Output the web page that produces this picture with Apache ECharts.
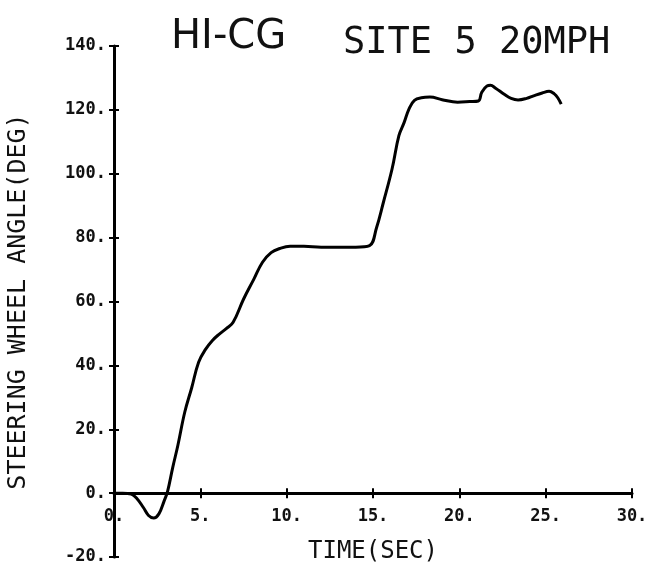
<!DOCTYPE html>
<html>
<head>
<meta charset="utf-8">
<script src="https://cdn.jsdelivr.net/npm/echarts@6/dist/echarts.min.js"></script>
<style>html,body{margin:0;padding:0;background:#fff;}#c{width:654px;height:576px;}</style>
</head>
<body>
<div id="c"></div>
<script>
const timeSec = [0, 0.5, 1.0, 1.3, 1.7, 2.0, 2.3, 2.6, 2.9, 3.1, 3.4, 3.7, 4.1, 4.5, 4.9, 5.3, 5.7, 6.1, 6.5, 6.9, 7.5, 8.1, 8.6, 9.1, 9.6, 10.2, 11, 12, 13, 14, 14.8, 15.2, 15.6, 16.1, 16.5, 16.8, 17.1, 17.4, 17.8, 18.3, 19, 19.9, 20.6, 21.1, 21.3, 21.6, 21.8, 22.1, 22.6, 23.0, 23.4, 23.9, 24.3, 24.8, 25.2, 25.5, 25.7, 25.9];
const angleDeg = [0, 0, -0.3, -1.5, -4.5, -7, -7.8, -6.5, -2.5, 0.5, 8, 15, 25.4, 33, 41, 45, 47.8, 49.8, 51.5, 53.5, 60.7, 67, 72.3, 75.3, 76.6, 77.3, 77.3, 77, 77, 77, 77.5, 83, 91, 101.4, 111.9, 116, 120.5, 123, 123.8, 124, 123.2, 122.4, 122.6, 122.8, 125.5, 127.5, 127.7, 126.8, 124.9, 123.6, 123.1, 123.6, 124.4, 125.3, 125.8, 125, 123.8, 121.8];
const titleLeft = 'HI-CG';
const titleRight = 'SITE 5 20MPH';
const xName = 'TIME(SEC)';
const yName = 'STEERING WHEEL ANGLE(DEG)';
const xMin = 0, xMax = 30, xStep = 5;
const yMin = -20, yMax = 140, yStep = 20;

const pts = timeSec.map((t, i) => [t, angleDeg[i]]);
const mono = '"DejaVu Sans Mono", "Liberation Mono", monospace';
const W = 654, H = 576;
const G = { left: 114, right: 22, top: 46, bottom: 19 };
const gw = W - G.left - G.right, gh = H - G.top - G.bottom;
const zeroFromBottom = gh * (0 - yMin) / (yMax - yMin);
const zeroFromTop = gh - zeroFromBottom;
const chart = echarts.init(document.getElementById('c'));
const lbl = v => v + '.';
const tick = { show: true, length: 5, lineStyle: { color: '#000', width: 2 } };
chart.setOption({
  animation: false,
  backgroundColor: '#fff',
  title: [
    { text: titleLeft, left: 166, top: 13, textStyle: { fontFamily: '"DejaVu Sans", sans-serif', fontSize: 40, fontWeight: 'normal', color: '#111' } },
    { text: titleRight, left: 338, top: 20, textStyle: { fontFamily: mono, fontSize: 37, fontWeight: 'normal', color: '#111' } }
  ],
  grid: Object.assign({ containLabel: false, outerBoundsMode: 'none' }, G),
  xAxis: [
    {
      type: 'value', min: xMin, max: xMax, interval: xStep, position: 'bottom', offset: -zeroFromBottom,
      name: xName, nameLocation: 'middle', nameGap: 47,
      nameTextStyle: { fontFamily: mono, fontSize: 24, color: '#111' },
      axisLine: { onZero: false, lineStyle: { color: '#000', width: 3 } },
      axisTick: tick,
      axisLabel: { formatter: lbl, margin: 15, fontFamily: mono, fontSize: 17, fontWeight: 'bold', color: '#111' },
      splitLine: { show: false }
    },
    {
      type: 'value', min: xMin, max: xMax, interval: xStep, position: 'top', offset: -zeroFromTop,
      axisLine: { onZero: false, show: false },
      axisTick: tick,
      axisLabel: { show: false }, splitLine: { show: false }
    }
  ],
  yAxis: [
    {
      type: 'value', min: yMin, max: yMax, interval: yStep, position: 'left',
      name: yName, nameLocation: 'middle', nameGap: 83, nameRotate: 90,
      nameTextStyle: { fontFamily: mono, fontSize: 25, color: '#111' },
      axisLine: { show: true, onZero: false, lineStyle: { color: '#000', width: 3 } },
      axisTick: tick,
      axisLabel: { formatter: lbl, margin: 8, fontFamily: mono, fontSize: 17, fontWeight: 'bold', color: '#111' },
      splitLine: { show: false }
    },
    {
      type: 'value', min: yMin, max: yMax, interval: yStep, position: 'right', offset: -gw,
      axisLine: { show: false, onZero: false },
      axisTick: tick,
      axisLabel: { show: false }, splitLine: { show: false }
    }
  ],
  series: [{
    type: 'line', data: pts, xAxisIndex: 0, yAxisIndex: 0,
    smooth: 0.4, symbol: 'none',
    lineStyle: { color: '#000', width: 3 }
  }]
});
</script>
</body>
</html>
